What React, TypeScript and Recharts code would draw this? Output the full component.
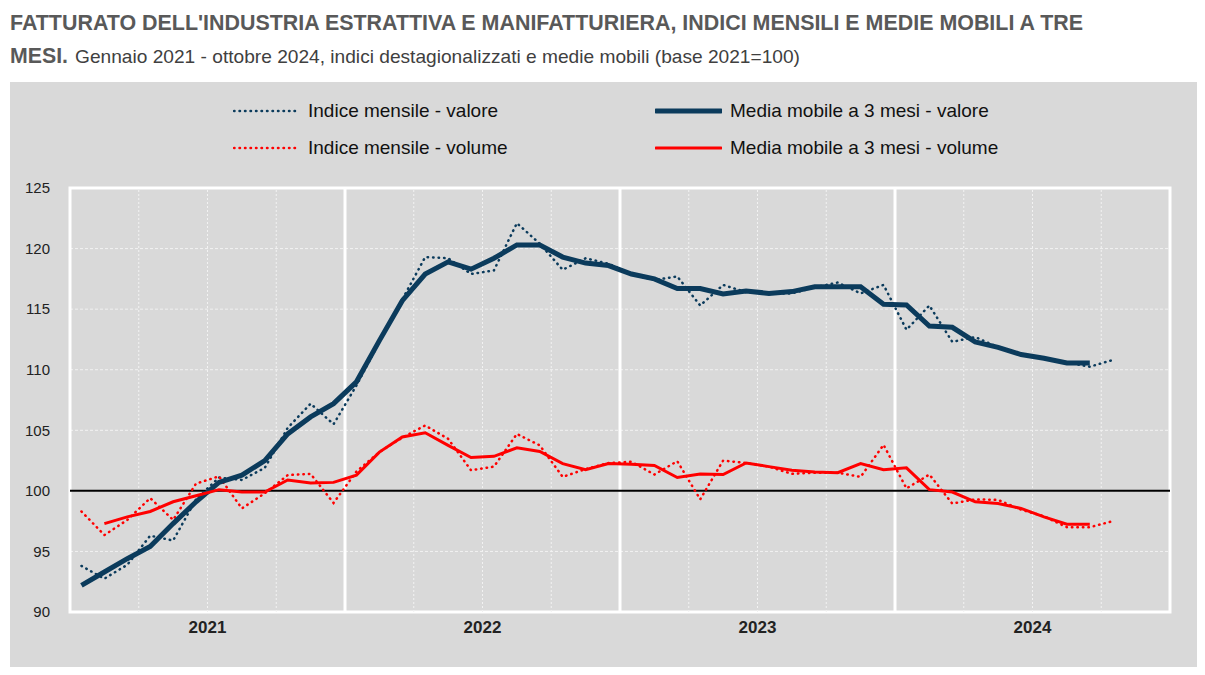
import React from 'react';
import { LineChart, Line, XAxis, YAxis, CartesianGrid, ReferenceLine, ReferenceArea } from 'recharts';

const years = ['2021', '2022', '2023', '2024'];
const monthNames = ['gen', 'feb', 'mar', 'apr', 'mag', 'giu', 'lug', 'ago', 'set', 'ott', 'nov', 'dic'];

const valoreMensile = [
  93.8, 92.75, 93.9, 96.3, 95.9, 99.3, 101.1, 100.9, 101.9, 105.2, 107.2, 105.5,
  108.7, 112.3, 115.8, 119.3, 119.2, 117.9, 118.2, 122.1, 120.4, 118.25, 119.2, 118.75,
  117.9, 117.4, 117.7, 115.3, 117.0, 116.4, 116.3, 116.3, 116.8, 117.2, 116.3, 117.0,
  113.3, 115.3, 112.3, 112.7, 111.85, 111.2, 110.9, 110.6, 110.25, 110.8,
];

const valoreMedia = [
  92.2, 93.3, 94.4, 95.4, 97.3, 99.1, 100.7, 101.3, 102.5, 104.7, 106.1, 107.2,
  109.0, 112.4, 115.7, 117.9, 118.9, 118.3, 119.2, 120.3, 120.3, 119.3, 118.8, 118.6,
  117.9, 117.5, 116.7, 116.7, 116.25, 116.5, 116.3, 116.45, 116.85, 116.85, 116.85, 115.4,
  115.35, 113.6, 113.5, 112.3, 111.85, 111.25, 110.95, 110.55, 110.55, null,
];

const volumeMensile = [
  98.3, 96.35, 97.6, 99.4, 97.6, 100.6, 101.2, 98.55, 99.8, 101.3, 101.4, 99.0,
  101.6, 103.2, 104.4, 105.4, 104.3, 101.7, 102.0, 104.7, 103.75, 101.15, 101.8, 102.3,
  102.4, 101.35, 102.45, 99.3, 102.5, 102.3, 102.0, 101.4, 101.5, 101.5, 101.15, 103.8,
  100.2, 101.35, 98.95, 99.3, 99.25, 98.45, 97.9, 97.0, 97.0, 97.5,
];

const volumeMedia = [
  null, 97.3, 97.85, 98.3, 99.1, 99.6, 100.1, 99.9, 99.9, 100.9, 100.65, 100.7,
  101.3, 103.2, 104.45, 104.8, 103.75, 102.75, 102.85, 103.55, 103.25, 102.25, 101.75, 102.25,
  102.2, 102.1, 101.1, 101.4, 101.35, 102.3, 102.0, 101.7, 101.55, 101.5, 102.25, 101.75,
  101.9, 100.1, 99.9, 99.1, 98.95, 98.55, 97.85, 97.25, 97.25, null,
];

const yTicks = [90, 95, 100, 105, 110, 115, 120, 125];
const yearCenters = [6, 18, 30, 42];
const quarterLines = [3, 6, 9, 15, 18, 21, 27, 30, 33, 39, 42, 45];
const yearLines = [12, 24, 36];

const labels = years.flatMap((y) => monthNames.map((m) => `${m} ${y}`));
const data = valoreMensile.map((v, i) => ({
  mese: labels[i],
  t: i + 0.5,
  valoreMensile: v,
  valoreMedia: valoreMedia[i],
  volumeMensile: volumeMensile[i],
  volumeMedia: volumeMedia[i],
}));

const NAVY = '#0b3b5c';
const RED = '#ff0000';
const NARROW = "'Liberation Sans Narrow', 'Arial Narrow', 'Liberation Sans', Arial, sans-serif";
const SANS = "'Liberation Sans', Arial, sans-serif";

const legendItems = [
  { label: 'Indice mensile - valore', color: NAVY, dotted: true, width: 2.5 },
  { label: 'Media mobile a 3 mesi - valore', color: NAVY, dotted: false, width: 5 },
  { label: 'Indice mensile - volume', color: RED, dotted: true, width: 2.5 },
  { label: 'Media mobile a 3 mesi - volume', color: RED, dotted: false, width: 3 },
];

const LegendBlock = () => (
  <div
    style={{
      position: 'absolute',
      left: 0,
      top: 100,
      display: 'grid',
      gridTemplateColumns: '422px 400px',
      rowGap: 15,
      paddingLeft: 233,
    }}
  >
    {legendItems.map((it) => (
      <div key={it.label} style={{ display: 'flex', alignItems: 'center', height: 22 }}>
        <svg width={67} height={10}>
          <line
            x1={1}
            x2={66}
            y1={5}
            y2={5}
            stroke={it.color}
            strokeWidth={it.width}
            strokeDasharray={it.dotted ? '0.5 5' : undefined}
            strokeLinecap="round"
          />
        </svg>
        <span style={{ marginLeft: 8, fontFamily: NARROW, fontSize: 19, color: '#111' }}>{it.label}</span>
      </div>
    ))}
  </div>
);

const YearTick = (props: any) => {
  const { x, y, payload } = props;
  const idx = yearCenters.indexOf(payload.value);
  return (
    <text x={x} y={y} dy={13} textAnchor="middle" fontFamily={SANS} fontWeight="bold" fontSize={17} fill="#222">
      {years[idx]}
    </text>
  );
};

export default function App() {
  return (
    <div style={{ position: 'absolute', left: 0, top: 0, width: 1205, height: 675, background: '#fff', overflow: 'hidden' }}>
      <svg width={1205} height={80} style={{ position: 'absolute', left: 0, top: 0 }}>
        <text x={10} y={30} fontFamily={NARROW} fontWeight="bold" fontSize={22} fill="#595959" textLength={1073} lengthAdjust="spacingAndGlyphs">
          FATTURATO DELL'INDUSTRIA ESTRATTIVA E MANIFATTURIERA, INDICI MENSILI E MEDIE MOBILI A TRE
        </text>
        <text x={10} y={63} fontFamily={NARROW} fontWeight="bold" fontSize={22} fill="#595959" textLength={58} lengthAdjust="spacingAndGlyphs">
          MESI.
        </text>
        <text x={75} y={63} fontFamily={NARROW} fontSize={19} fill="#404040" textLength={725} lengthAdjust="spacingAndGlyphs">
          Gennaio 2021 - ottobre 2024, indici destagionalizzati e medie mobili (base 2021=100)
        </text>
      </svg>
      <div style={{ position: 'absolute', left: 10, top: 82, width: 1187, height: 585, background: '#d9d9d9' }} />
      <LegendBlock />
      <div style={{ position: 'absolute', left: 0, top: 0 }}>
        <LineChart width={1205} height={675} data={data} margin={{ top: 188, right: 35, bottom: 33, left: 10 }}>
          <CartesianGrid vertical={false} stroke="#f2f2f2" strokeDasharray="3 2" strokeWidth={1} />
          {quarterLines.map((q) => (
            <ReferenceLine key={`q${q}`} x={q} stroke="#f2f2f2" strokeDasharray="2 2" strokeWidth={1} />
          ))}
          {yearLines.map((q) => (
            <ReferenceLine key={`y${q}`} x={q} stroke="#ffffff" strokeWidth={3} />
          ))}
          <ReferenceArea x1={0} x2={48} y1={90} y2={125} fill="none" stroke="#ffffff" strokeWidth={3} />
          <ReferenceLine y={100} stroke="#000" strokeWidth={2} />
          <XAxis
            dataKey="t"
            type="number"
            domain={[0, 48]}
            ticks={yearCenters}
            tick={<YearTick />}
            axisLine={false}
            tickLine={false}
            interval={0}
          />
          <YAxis
            width={60}
            domain={[90, 125]}
            ticks={yTicks}
            axisLine={false}
            tickLine={false}
            tickSize={6}
            tickMargin={14}
            tick={{ fontFamily: SANS, fontSize: 15, fill: '#222' }}
            interval={0}
          />
          <Line dataKey="valoreMensile" stroke={NAVY} strokeWidth={2.5} strokeDasharray="0.5 5" strokeLinecap="round" dot={false} isAnimationActive={false} />
          <Line dataKey="volumeMensile" stroke={RED} strokeWidth={2.5} strokeDasharray="0.5 5" strokeLinecap="round" dot={false} isAnimationActive={false} />
          <Line dataKey="valoreMedia" stroke={NAVY} strokeWidth={5} dot={false} isAnimationActive={false} />
          <Line dataKey="volumeMedia" stroke={RED} strokeWidth={3} dot={false} isAnimationActive={false} />
        </LineChart>
      </div>
    </div>
  );
}
